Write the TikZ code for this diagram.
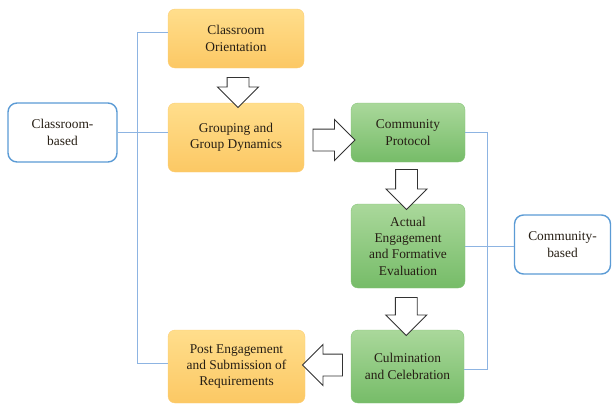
\documentclass[tikz,border=0pt]{standalone}
\usepackage{fontspec}
\setmainfont{Liberation Serif}
\usetikzlibrary{calc,shapes.arrows}

\definecolor{orangetop}{RGB}{255,222,140}
\definecolor{orangebot}{RGB}{252,200,100}
\definecolor{greentop}{RGB}{170,216,155}
\definecolor{greenbot}{RGB}{118,188,104}
\definecolor{linkblue}{RGB}{141,180,226}
\definecolor{edgeblue}{RGB}{91,155,213}
\definecolor{inktext}{RGB}{38,30,20}

\begin{document}
\begin{tikzpicture}[
x=1pt, y=-1pt,
font=\fontsize{13.4}{16.3}\selectfont,
stage/.style={rectangle, rounded corners=7pt, align=center, text=inktext, inner sep=2pt},
classroom/.style={stage, top color=orangetop, bottom color=orangebot, draw=orangebot!90!white},
community/.style={stage, top color=greentop, bottom color=greenbot, draw=greenbot!90!white},
setting/.style={rectangle, rounded corners=9pt, draw=edgeblue, line width=1.4pt, fill=white, align=center, text=inktext},
blockarrow/.style={single arrow, draw=black!80, fill=white, line width=0.9pt,
  minimum width=40pt, single arrow head extend=9.5pt, single arrow tip angle=90},
sidearrow/.style={blockarrow, inner xsep=0pt, inner ysep=10.5pt},
downarrow/.style={blockarrow, shape border rotate=270, inner xsep=10.5pt, inner ysep=0pt},
link/.style={draw=linkblue, line width=1pt},
]
\useasboundingbox (0,0) rectangle (612,405);

% boxes
\node[classroom, minimum width=136pt, minimum height=59pt] (orient) at (236,38.5) {Classroom\\Orientation};
\node[classroom, minimum width=136pt, minimum height=69pt] (group) at (236,137.5) {Grouping and\\Group Dynamics};
\node[community, minimum width=114pt, minimum height=59pt] (proto) at (408,132.5) {Community\\Protocol};
\node[community, minimum width=114pt, minimum height=84pt] (act) at (408,246) {Actual\\Engagement\\and Formative\\Evaluation};
\node[community, minimum width=113pt, minimum height=73pt] (culm) at (407.5,366.5) {Culmination\\and Celebration};
\node[classroom, minimum width=137pt, minimum height=73pt] (post) at (236.5,366.5) {Post Engagement\\and Submission of\\Requirements};

\node[setting, minimum width=109pt, minimum height=59pt] (cb) at (62.5,132.5) {Classroom-\\based};
\node[setting, minimum width=96pt, minimum height=59pt] (comm) at (562.5,244.5) {Community-\\based};

% blue connectors
\coordinate (lt) at ($(cb.east)!0.39!(group.west |- cb.east)$);
\coordinate (rt) at ($(act.east)!0.45!(comm.west |- act.east)$);
\draw[link] (cb.east) -- (group.west |- cb.east);
\draw[link] ([yshift=6.5pt]orient.west) -| (lt) |- ([yshift=3pt]post.west);
\draw[link] (act.east) -- (comm.west |- act.east);
\draw[link] (proto.east) -| (rt) |- ([yshift=-2.5pt]culm.east);

% block arrows
\node[downarrow, minimum height=30pt] (a1) at ($(orient.south)!0.5!(group.north)+(2,1.5)$) {};
\node[sidearrow, minimum height=42pt] (a2) at ($(group.east)!0.5!(proto.west |- group.east)+(1,2.5)$) {};
\node[downarrow, minimum height=40pt] (a3) at ($(proto.south)!0.5!(act.north)+(-1.5,1)$) {};
\node[downarrow, minimum height=38pt] (a4) at ($(act.south)!0.5!(culm.north)+(-1.5,2)$) {};
\node[sidearrow, minimum height=40pt, shape border rotate=180] (a5) at ($(post.east)!0.5!(culm.west)+(0,-1.5)$) {};
\end{tikzpicture}
\end{document}
